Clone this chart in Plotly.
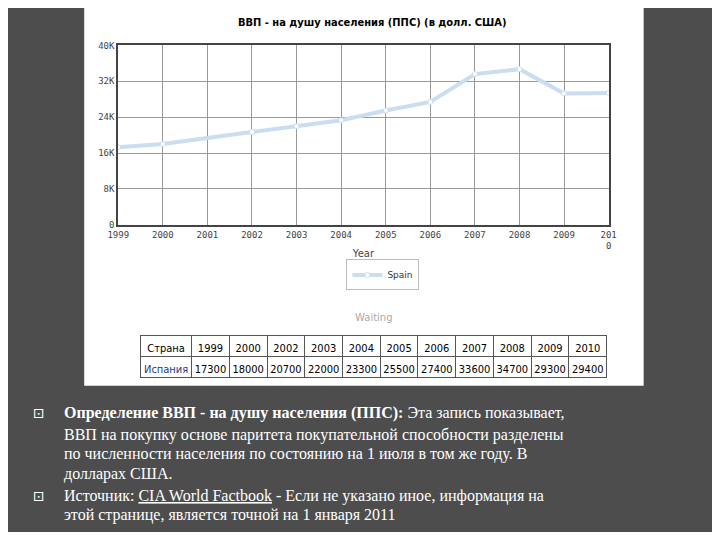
import plotly.graph_objects as go

years = [1999, 2000, 2002, 2003, 2004, 2005, 2006, 2007, 2008, 2009, 2010]
gdp = [17300, 18000, 20700, 22000, 23300, 25500, 27400, 33600, 34700, 29300, 29400]
tick_years = list(range(1999, 2011))
tick_labels = [str(y) for y in range(1999, 2010)] + ["201<br>0"]
y_ticks = [0, 8000, 16000, 24000, 32000, 40000]
y_labels = ["0", "8K", "16K", "24K", "32K", "40K"]
table_head = ["Страна"] + [str(y) for y in years]
table_row = ["Испания"] + [str(v) for v in gdp]

W, H, OFF = 704, 524, 8
def px(x): return (x - OFF) / W
def py(y): return 1 - (y - OFF) / H

fig = go.Figure()
fig.add_trace(go.Scatter(x=years, y=gdp, mode="lines+markers", name="Spain",
                         line=dict(color="#c9def0", width=4),
                         marker=dict(color="white", size=5, line=dict(color="#c9def0", width=1))))
fig.add_trace(go.Table(
    domain=dict(x=[px(133), px(612)], y=[py(382), py(337)]),
    columnwidth=[1.35] + [1] * 11,
    header=dict(values=table_head, fill_color="white", line_color="#555",
                font=dict(family="DejaVu Sans Condensed", size=11, color="black"), height=21, align="center"),
    cells=dict(values=[[v] for v in table_row], fill_color="white", line_color="#555",
               font=dict(family="DejaVu Sans Condensed", size=11, color=["#1a3a8a"] + ["black"] * 11),
               height=21, align="center")))

fig.update_layout(
    width=W, height=H, margin=dict(l=0, r=0, t=0, b=0),
    paper_bgcolor="#4d4d4d", plot_bgcolor="#f6f6f6",
    shapes=[dict(type="rect", xref="paper", yref="paper", x0=px(75), x1=px(650), y0=py(388), y1=1.02,
                 fillcolor="white", line_width=0, layer="below")],
    xaxis=dict(domain=[px(110), px(614)], range=[1999, 2010], tickvals=tick_years, ticktext=tick_labels,
               showgrid=True, gridcolor="#999", gridwidth=1, showline=True, linecolor="#444", linewidth=2,
               mirror=True, tickfont=dict(family="DejaVu Sans Mono", size=9, color="#444"),
               title=dict(text="Year", font=dict(family="DejaVu Sans", size=10, color="#444"), standoff=0)),
    yaxis=dict(domain=[py(224), py(41)], range=[0, 40000], tickvals=y_ticks, ticktext=y_labels,
               showgrid=True, gridcolor="#999", showline=True, linecolor="#444", linewidth=2, mirror=True,
               tickfont=dict(family="DejaVu Sans Mono", size=9, color="#444")),
    showlegend=True,
    legend=dict(x=px(382), y=py(275), xanchor="center", yanchor="middle", bgcolor="white",
                bordercolor="#bbb", borderwidth=1,
                font=dict(family="DejaVu Sans", size=9, color="#333"), itemwidth=30),
)

ann = [dict(text="<b>ВВП - на душу населения (ППС) (в долл. США)</b>", x=px(371), y=py(18), size=11,
            color="black", family="DejaVu Sans Condensed", xanchor="center"),
       dict(text="Waiting", x=px(373), y=py(318), size=10, color="#aaa", family="DejaVu Sans", xanchor="center")]
lines = [(416, "<b>Определение ВВП - на душу населения (ППС):</b> Эта запись показывает,"),
         (438, "ВВП на покупку основе паритета покупательной способности разделены"),
         (458, "по численности населения по состоянию на 1 июля в том же году. В"),
         (478, "долларах США."),
         (500, "Источник: <u>CIA World Factbook</u> - Если не указано иное, информация на"),
         (520, "этой странице, является точной на 1 января 2011")]
for y, t in lines:
    ann.append(dict(text=t, x=px(52), y=py(y), size=16, color="white", family="Liberation Serif", xanchor="left"))
for y in (416, 500):
    ann.append(dict(text="⊡", x=px(29), y=py(y), size=14, color="white", family="DejaVu Sans", xanchor="center"))
for a in ann:
    fig.add_annotation(text=a["text"], x=a["x"], y=a["y"], xref="paper", yref="paper", showarrow=False,
                       xanchor=a["xanchor"], yanchor="middle",
                       font=dict(size=a["size"], color=a["color"], family=a["family"]))

fig.write_html("out.html")
